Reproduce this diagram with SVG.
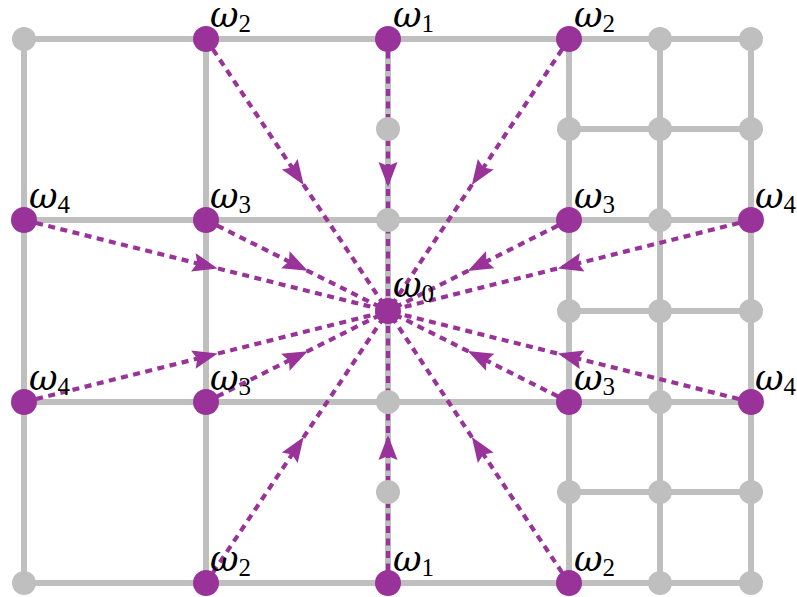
<svg xmlns="http://www.w3.org/2000/svg" width="797" height="597" viewBox="0 0 797 597">
<defs>
<style>
.g{stroke:#bfbfbf;stroke-width:6;fill:none;stroke-linecap:butt}
.gd{fill:#bfbfbf}
.pd{fill:#993399}
.c{stroke:#993399;stroke-width:4.2;fill:none;stroke-dasharray:7 5.5;marker-mid:url(#ah)}
.l{font-family:"DejaVu Serif","Liberation Serif",serif;font-style:italic;font-size:35px;fill:#000}
.s{font-family:"Liberation Serif",serif;font-style:normal;font-size:25px}
</style>
<marker id="ah" markerUnits="userSpaceOnUse" markerWidth="30" markerHeight="30" viewBox="-15 -15 30 30" refX="0" refY="0" orient="auto">
<path d="M12 0 L-13 -9.5 L-9 0 L-13 9.5 Z" fill="#993399"/>
</marker>
</defs>
<rect width="797" height="597" fill="#fff"/>
<g id="grid">
<path class="g" d="M24 39H751M24 220H751M24 402H751M24 583H751M569 129H751M569 311H751M569 492H751"/>
<path class="g" d="M24 39V583M206 39V583M388 39V583M569 39V583M660 39V583M751 39V583"/>
</g>
<g id="connectors">
<path class="c" d="M206 39L297 175L388 311"/>
<path class="c" d="M388 39L388 175L388 311"/>
<path class="c" d="M569 39L478.5 175L388 311"/>
<path class="c" d="M24 220L206 265.5L388 311"/>
<path class="c" d="M206 220L297 265.5L388 311"/>
<path class="c" d="M569 220L478.5 265.5L388 311"/>
<path class="c" d="M751 220L569.5 265.5L388 311"/>
<path class="c" d="M24 402L206 356.5L388 311"/>
<path class="c" d="M206 402L297 356.5L388 311"/>
<path class="c" d="M569 402L478.5 356.5L388 311"/>
<path class="c" d="M751 402L569.5 356.5L388 311"/>
<path class="c" d="M206 583L297 447L388 311"/>
<path class="c" d="M388 583L388 447L388 311"/>
<path class="c" d="M569 583L478.5 447L388 311"/>
</g>
<g id="gray-nodes" class="gd">
<circle cx="24" cy="39" r="12"/>
<circle cx="660" cy="39" r="12"/>
<circle cx="751" cy="39" r="12"/>
<circle cx="388" cy="129" r="12"/>
<circle cx="569" cy="129" r="12"/>
<circle cx="660" cy="129" r="12"/>
<circle cx="751" cy="129" r="12"/>
<circle cx="388" cy="220" r="12"/>
<circle cx="660" cy="220" r="12"/>
<circle cx="569" cy="311" r="12"/>
<circle cx="660" cy="311" r="12"/>
<circle cx="751" cy="311" r="12"/>
<circle cx="388" cy="402" r="12"/>
<circle cx="660" cy="402" r="12"/>
<circle cx="388" cy="492" r="12"/>
<circle cx="569" cy="492" r="12"/>
<circle cx="660" cy="492" r="12"/>
<circle cx="751" cy="492" r="12"/>
<circle cx="24" cy="583" r="12"/>
<circle cx="660" cy="583" r="12"/>
<circle cx="751" cy="583" r="12"/>
</g>
<g id="n0"><circle class="pd" cx="388" cy="311" r="13"/><text class="l" x="393" y="297">ω<tspan class="s" dy="5">0</tspan></text></g>
<g id="n1t"><circle class="pd" cx="388" cy="39" r="13"/><text class="l" x="393" y="27">ω<tspan class="s" dy="5">1</tspan></text></g>
<g id="n1b"><circle class="pd" cx="388" cy="583" r="13"/><text class="l" x="393" y="571">ω<tspan class="s" dy="5">1</tspan></text></g>
<g id="n2tl"><circle class="pd" cx="206" cy="39" r="13"/><text class="l" x="210" y="27">ω<tspan class="s" dy="5">2</tspan></text></g>
<g id="n2tr"><circle class="pd" cx="569" cy="39" r="13"/><text class="l" x="574" y="27">ω<tspan class="s" dy="5">2</tspan></text></g>
<g id="n2bl"><circle class="pd" cx="206" cy="583" r="13"/><text class="l" x="210" y="571">ω<tspan class="s" dy="5">2</tspan></text></g>
<g id="n2br"><circle class="pd" cx="569" cy="583" r="13"/><text class="l" x="574" y="571">ω<tspan class="s" dy="5">2</tspan></text></g>
<g id="n3a"><circle class="pd" cx="206" cy="220" r="13"/><text class="l" x="210" y="208">ω<tspan class="s" dy="5">3</tspan></text></g>
<g id="n3b"><circle class="pd" cx="569" cy="220" r="13"/><text class="l" x="574" y="208">ω<tspan class="s" dy="5">3</tspan></text></g>
<g id="n3c"><circle class="pd" cx="206" cy="402" r="13"/><text class="l" x="210" y="390">ω<tspan class="s" dy="5">3</tspan></text></g>
<g id="n3d"><circle class="pd" cx="569" cy="402" r="13"/><text class="l" x="574" y="390">ω<tspan class="s" dy="5">3</tspan></text></g>
<g id="n4a"><circle class="pd" cx="24" cy="220" r="13"/><text class="l" x="29" y="208">ω<tspan class="s" dy="5">4</tspan></text></g>
<g id="n4b"><circle class="pd" cx="751" cy="220" r="13"/><text class="l" x="755" y="208">ω<tspan class="s" dy="5">4</tspan></text></g>
<g id="n4c"><circle class="pd" cx="24" cy="402" r="13"/><text class="l" x="29" y="390">ω<tspan class="s" dy="5">4</tspan></text></g>
<g id="n4d"><circle class="pd" cx="751" cy="402" r="13"/><text class="l" x="755" y="390">ω<tspan class="s" dy="5">4</tspan></text></g>
</svg>
